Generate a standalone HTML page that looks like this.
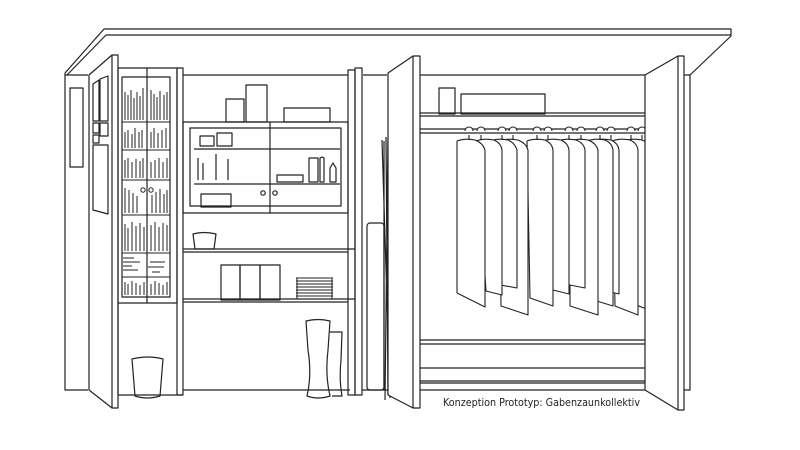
<!DOCTYPE html>
<html><head><meta charset="utf-8"><style>
html,body{margin:0;padding:0;background:#fff;}
svg{display:block;}
</style></head><body>
<svg width="800" height="450" viewBox="0 0 800 450" xmlns="http://www.w3.org/2000/svg" fill="none" stroke="#222" stroke-width="1.2" stroke-linejoin="round">
<rect width="800" height="450" fill="#fff" stroke="none"/>
<path d="M65 73 L104 29 L731 29 L731 36 L690 75"/>
<path d="M67 75 L106 35 L731 35"/>
<path d="M65 73 V390 H88"/>
<line x1="65" y1="75" x2="88" y2="75"/>
<rect x="70" y="88" width="13" height="79"/>
<path d="M89 75 L112 55 L118 55 L118 408 L112 408 L89 390 Z" fill="#fff"/>
<line x1="112" y1="55" x2="112" y2="408"/>
<path d="M93 84 L99 80 L99 121 L93 121 Z"/>
<path d="M100 79 L108 76 L108 121 L100 121 Z"/>
<rect x="93" y="123" width="6" height="10"/><rect x="100" y="123" width="8" height="13"/><rect x="93" y="135" width="6" height="8"/>
<path d="M93 145 L108 145 L108 214 L93 210 Z"/>
<rect x="118" y="68" width="59" height="235"/>
<rect x="122" y="77" width="48" height="220"/>
<line x1="147" y1="68" x2="147" y2="303"/>
<g stroke-width="1">
<line x1="122" y1="122" x2="170" y2="122"/><line x1="122" y1="150" x2="170" y2="150"/><line x1="122" y1="180" x2="170" y2="180"/><line x1="122" y1="215" x2="170" y2="215"/><line x1="122" y1="253" x2="170" y2="253"/><line x1="122" y1="277" x2="170" y2="277"/>
<path d="M125 92V120M128 95V120M131 90V120M134 98V120M137 92V120M140 96V120M143 88V120M151 90V120M154 94V120M157 97V120M160 91V120M164 95V120M167 92V120"/>
<path d="M125 132V148M128 130V148M132 134V148M135 128V148M139 132V148M142 130V148M151 132V148M154 128V148M158 133V148M162 130V148M166 128V148"/>
<path d="M125 160V178M128 158V178M132 162V178M136 159V178M140 161V178M143 158V178M151 162V178M155 160V178M159 158V178M163 162V178M167 158V178"/>
<path d="M125 188V213M129 190V213M133 193V213M137 196V213M152 195V213M156 192V213M160 189V213M164 194V213M167 190V213"/>
<circle cx="143" cy="190" r="2.2"/><circle cx="151" cy="190" r="2.2"/>
<path d="M125 224V251M128 228V251M132 222V251M136 226V251M140 223V251M144 227V251M151 225V251M155 222V251M159 227V251M163 223V251M167 225V251"/>
<path d="M123 258H134M123 262H140M123 266H132M123 270H138M150 262H165M148 267H164M152 272H160"/>
<path d="M125 282V295M128 284V295M132 281V295M136 283V295M140 285V295M144 282V295M151 284V295M155 281V295M159 283V295M163 285V295M167 282V295"/>
</g>
<rect x="177" y="68" width="6" height="327"/>
<line x1="118" y1="303" x2="118" y2="395"/>
<line x1="118" y1="395" x2="183" y2="395"/>
<line x1="183" y1="75" x2="348" y2="75"/>
<rect x="183" y="122" width="165" height="91"/>
<rect x="190" y="128" width="151" height="78"/>
<line x1="270" y1="122" x2="270" y2="213"/>
<line x1="194" y1="149" x2="340" y2="149"/><line x1="194" y1="184" x2="340" y2="184"/>
<rect x="200" y="136" width="14" height="10"/><rect x="217" y="133" width="15" height="13"/>
<path d="M198 158V180M203 163V180M216 154V180M228 159V180"/>
<rect x="277" y="175" width="26" height="7"/><rect x="309" y="158" width="9" height="24"/>
<path d="M320 182V158L322 157L324 158V182Z"/><path d="M330 182V168L333 163L336 168V182Z"/>
<rect x="201" y="194" width="30" height="13"/>
<circle cx="263" cy="193" r="2.2"/><circle cx="275" cy="193" r="2.2"/>
<rect x="226" y="99" width="18" height="23"/><rect x="246" y="85" width="21" height="37"/><rect x="284" y="108" width="46" height="14"/>
<path d="M183 249H355M183 252H348"/>
<path d="M183 299H355M183 302H348"/>
<path d="M193 234Q204 231 216 234L214 249H195Z"/>
<rect x="221" y="265" width="19" height="35"/><rect x="240" y="265" width="20" height="35"/><rect x="260" y="265" width="20" height="35"/>
<g stroke-width="1"><path d="M296 278H333M296 281H333M296 284H333M296 287H333M296 290H333M296 293H333M296 296H333M297 299H332M297 278V299M332 278V299"/></g>
<path d="M306 321Q318 318 330 321L328 350Q325 375 330 396Q318 400 307 396Q312 375 308 350Z"/>
<path d="M330 332H342L341 360Q339 380 342 396H332"/>
<path d="M132 359Q148 355 163 359L160 396Q147 400 135 396Z"/>
<line x1="183" y1="390" x2="350" y2="390"/>
<rect x="348" y="70" width="7" height="325"/><rect x="355" y="68" width="7" height="327"/>
<line x1="363" y1="75" x2="387" y2="75"/>
<line x1="362" y1="390" x2="388" y2="390"/>
<rect x="367" y="223" width="17" height="167" rx="3"/>
<path d="M384 141L384 390M386 137L388 395M382 140L390 398M388 138L385 400"/>
<path d="M388 73 L413 56 L420 56 L420 408 L413 408 L388 395 Z" fill="#fff"/>
<line x1="413" y1="56" x2="413" y2="408"/>
<line x1="420" y1="75" x2="645" y2="75"/>
<path d="M420 113H663L645 116H420"/>
<rect x="439" y="88" width="16" height="26"/><rect x="461" y="94" width="84" height="20"/>
<path d="M420 129H660Q663 131 660 133H420"/>
<path d="M420 340H663L645 344H420"/>
<path d="M420 368H645L663 381H420M420 383H645"/>
<line x1="420" y1="390" x2="645" y2="390"/>
<g fill="#fff" stroke-width="1.1">
<path d="M624 141Q632 138 642 140Q650 143 652 150V311L628 302Z"/>
<path d="M612 141Q620 138 630 140Q637 143 638 150V315L615 306Z"/>
<path d="M593 141Q601 138 611 140Q618 143 619 150V294L603 290Z"/>
<path d="M587 141Q595 138 605 140Q612 143 613 150V306L587 298Z"/>
<path d="M570 141Q578 138 588 140Q596 143 598 150V315L570 306Z"/>
<path d="M558 141Q566 138 576 140Q584 143 585 150V288L560 283Z"/>
<path d="M543 141Q551 138 561 140Q568 143 569 150V294L553 290Z"/>
<path d="M527 141Q535 138 545 140Q552 143 553 150V306L530 298Z"/>
<path d="M499 141Q508 138 518 140Q526 143 528 150V315L501 306Z"/>
<path d="M490 141Q498 138 508 140Q515 143 517 150V288L490 283Z"/>
<path d="M476 141Q484 138 494 140Q501 143 502 150V295L486 291Z"/>
<path d="M457 141Q465 138 475 140Q483 143 485 150V307L457 293Z"/>
</g>
<g stroke-width="1.1" fill="#fff">
<path d="M469 140V135M469 131m-4 0a4 4 0 1 1 8 0"/>
<path d="M481 140V135M481 131m-4 0a4 4 0 1 1 8 0"/>
<path d="M502 140V135M502 131m-4 0a4 4 0 1 1 8 0"/>
<path d="M513 140V135M513 131m-4 0a4 4 0 1 1 8 0"/>
<path d="M537 140V135M537 131m-4 0a4 4 0 1 1 8 0"/>
<path d="M548 140V135M548 131m-4 0a4 4 0 1 1 8 0"/>
<path d="M569 140V135M569 131m-4 0a4 4 0 1 1 8 0"/>
<path d="M581 140V135M581 131m-4 0a4 4 0 1 1 8 0"/>
<path d="M600 140V135M600 131m-4 0a4 4 0 1 1 8 0"/>
<path d="M611 140V135M611 131m-4 0a4 4 0 1 1 8 0"/>
<path d="M631 140V135M631 131m-4 0a4 4 0 1 1 8 0"/>
<path d="M642 140V135M642 131m-4 0a4 4 0 1 1 8 0"/>
</g>
<path d="M645 75 L678 56 L684 56 L684 410 L678 410 L645 390 Z" fill="#fff"/>
<line x1="678" y1="56" x2="678" y2="410"/>
<path d="M684 75H690V390H684"/>
<text x="443" y="406" font-family="'DejaVu Sans Condensed','Liberation Sans Narrow','Liberation Sans',sans-serif" font-size="11" fill="#222" stroke="none" textLength="197" lengthAdjust="spacingAndGlyphs">Konzeption Prototyp: Gabenzaunkollektiv</text>
</svg>
</body></html>
